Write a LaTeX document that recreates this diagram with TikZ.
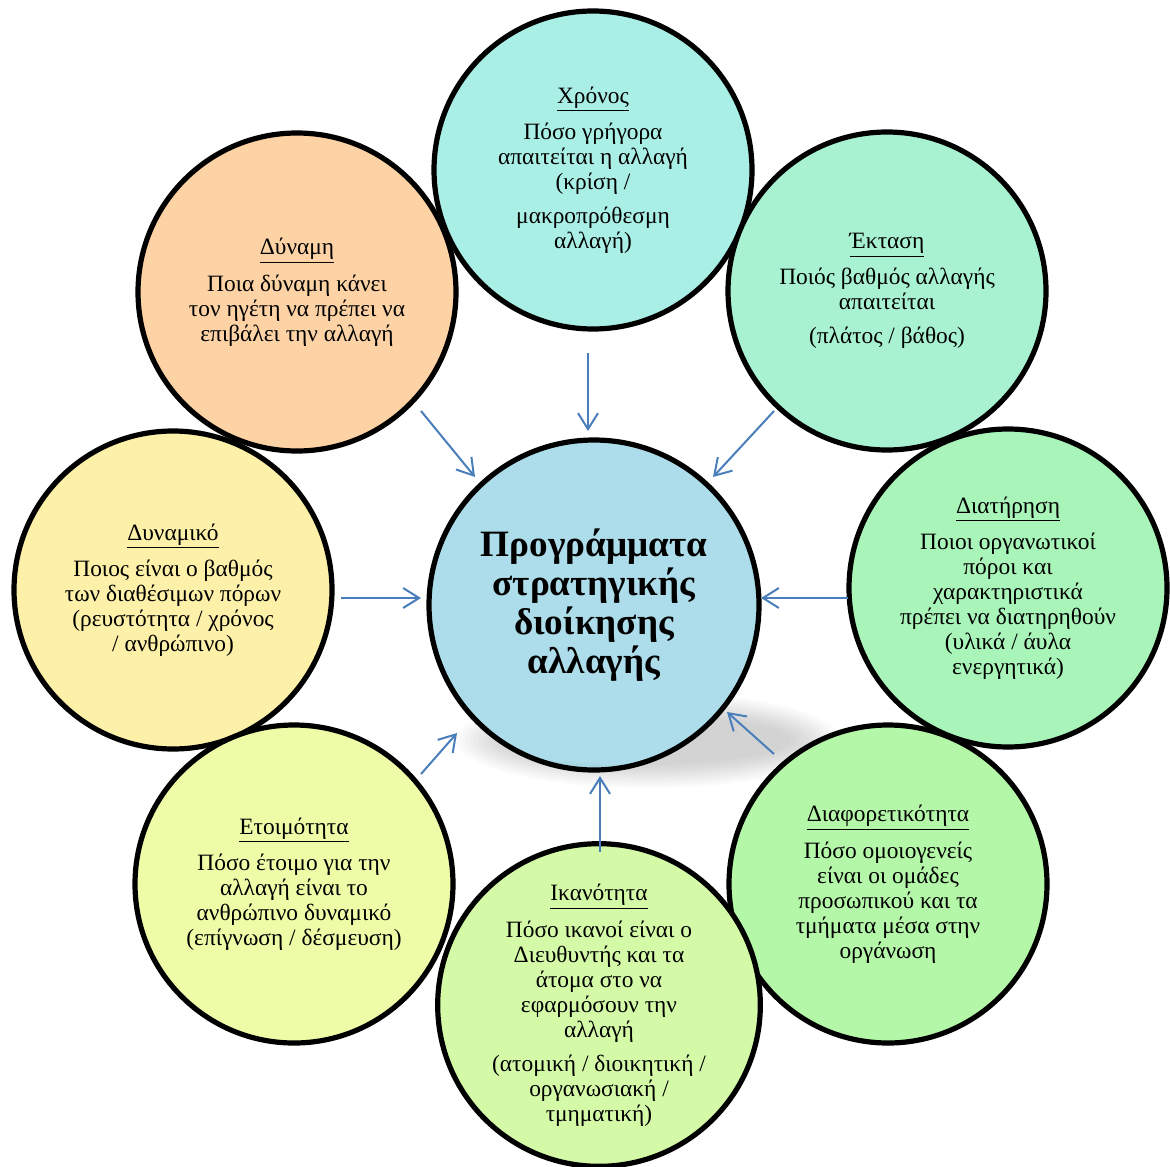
\documentclass[tikz,border=0pt]{standalone}
\usepackage{fontspec}
\setmainfont{Liberation Serif}
\usetikzlibrary{arrows.meta}

\definecolor{centrefill}{HTML}{ADDDEA}
\definecolor{chronosfill}{HTML}{AAEFE5}
\definecolor{ektasifill}{HTML}{A8F2D2}
\definecolor{diatirisifill}{HTML}{A8F4B9}
\definecolor{diaforfill}{HTML}{B4F7A8}
\definecolor{ikanotfill}{HTML}{D4FAA8}
\definecolor{etoimfill}{HTML}{EEFCA8}
\definecolor{dynamikofill}{HTML}{FDF0A8}
\definecolor{dynamifill}{HTML}{FDD3A6}
\definecolor{arrowblue}{HTML}{4A7EBB}

% soft grey shadow under the central circle, drawn around (0,0)
\newcommand\castshadow{%
  \foreach \k in {0,...,11}
    \fill[black,opacity=0.016] (54,135) ellipse ({192-\k*4.5} and {48-\k*2.2});%
}

\begin{document}
\begin{tikzpicture}[x=0.5pt,y=-0.5pt,
  bubble/.style={circle, draw=black, line width=2.6pt, minimum size=159pt,
    inner sep=0pt, align=center, text=black,
    font=\fontsize{11.7}{12.5}\selectfont},
  hub/.style={bubble, minimum size=165pt, fill=centrefill,
    font=\bfseries\fontsize{18.6}{19.5}\selectfont},
  link/.style={draw=arrowblue, line width=1pt,
    -{Straight Barb[length=8pt,width=10pt]}},
]
\useasboundingbox (0,0) rectangle (1170,1166);

% shadow outside the central circle
\begin{scope}[shift={(594,605)}]
  \castshadow
\end{scope}

% central circle, with the shadow showing through its lower part
\node[hub, path picture={
    \begin{scope}[shift={(path picture bounding box.center)}]
      \castshadow
    \end{scope}}] (ctr) at (594,605)
  {Προγράμματα\\στρατηγικής\\διοίκησης\\αλλαγής};

% surrounding circles
\node[bubble, fill=dynamikofill] (dynamiko) at (173,590)
  {\underline{Δυναμικό}\\[4.5pt]Ποιος είναι ο βαθμός\\των διαθέσιμων πόρων\\(ρευστότητα / χρόνος\\/ ανθρώπινο)};
\node[bubble, fill=dynamifill] (dynami) at (297,292)
  {\underline{Δύναμη}\\[4.5pt]Ποια δύναμη κάνει\\τον ηγέτη να πρέπει να\\επιβάλει την αλλαγή};
\node[bubble, fill=chronosfill] (chronos) at (593,170)
  {\underline{Χρόνος}\\[4.5pt]Πόσο γρήγορα\\απαιτείται η αλλαγή\\(κρίση /\\[4.5pt]μακροπρόθεσμη\\αλλαγή)};
\node[bubble, fill=ektasifill] (ektasi) at (887,291)
  {\underline{Έκταση}\\[4.5pt]Ποιός βαθμός αλλαγής\\απαιτείται\\[4.5pt](πλάτος / βάθος)};
\node[bubble, fill=diatirisifill] (diatirisi) at (1008,588)
  {\underline{Διατήρηση}\\[4.5pt]Ποιοι οργανωτικοί\\πόροι και\\χαρακτηριστικά\\πρέπει να διατηρηθούν\\(υλικά / άυλα\\ενεργητικά)};
\node[bubble, fill=diaforfill] (diafor) at (888,884)
  {\underline{Διαφορετικότητα}\\[4.5pt]Πόσο ομοιογενείς\\είναι οι ομάδες\\προσωπικού και τα\\τμήματα μέσα στην\\οργάνωση};
\node[bubble, fill=etoimfill] (etoim) at (294,884)
  {\underline{Ετοιμότητα}\\[4.5pt]Πόσο έτοιμο για την\\αλλαγή είναι το\\ανθρώπινο δυναμικό\\(επίγνωση / δέσμευση)};
\node[bubble, fill=ikanotfill] (ikanot) at (599,1005)
  {\underline{Ικανότητα}\\[4.5pt]Πόσο ικανοί είναι ο\\Διευθυντής και τα\\άτομα στο να\\εφαρμόσουν την\\αλλαγή\\[4.5pt](ατομική / διοικητική /\\οργανωσιακή /\\τμηματική)};

% arrow end points in the gaps between the circles
\coordinate (dynami-out)    at (421,411);  \coordinate (dynami-in)    at (475,477);
\coordinate (chronos-out)   at (588,353);  \coordinate (chronos-in)   at (588,431);
\coordinate (ektasi-out)    at (774,411);  \coordinate (ektasi-in)    at (713,477);
\coordinate (diatirisi-out) at (848,598);  \coordinate (diatirisi-in) at (761,598);
\coordinate (diafor-out)    at (774,754);  \coordinate (diafor-in)    at (727,712);
\coordinate (ikanot-out)    at (600,852);  \coordinate (ikanot-in)    at (600,776);
\coordinate (etoim-out)     at (421,774);  \coordinate (etoim-in)     at (457,733);
\coordinate (dynamiko-out)  at (341,598);  \coordinate (dynamiko-in)  at (421,598);

\foreach \n in {dynami,chronos,ektasi,diatirisi,diafor,ikanot,etoim,dynamiko}
  \draw[link] (\n-out) -- (\n-in);
\end{tikzpicture}
\end{document}
